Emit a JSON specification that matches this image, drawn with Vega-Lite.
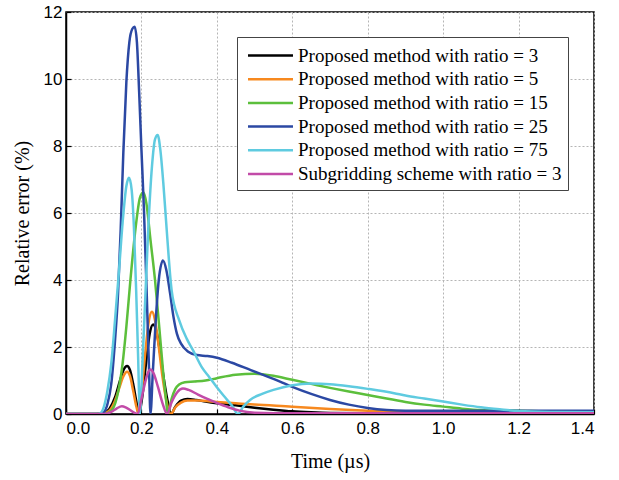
{
  "$schema": "https://vega.github.io/schema/vega-lite/v6.json",
  "width": 528,
  "height": 402,
  "autosize": {"type": "none"},
  "padding": {"left": 66, "top": 12, "right": 25, "bottom": 66},
  "background": "#ffffff",
  "config": {
    "view": {"stroke": "#000000", "strokeWidth": 1.5},
    "axis": {
      "domainColor": "#000000",
      "domainWidth": 1.5,
      "tickColor": "#000000",
      "tickSize": -5,
      "tickWidth": 1.2,
      "labelFont": "Liberation Sans",
      "labelFontSize": 17,
      "labelColor": "#000000",
      "labelPadding": 9,
      "titleFont": "Liberation Serif",
      "titleFontSize": 20,
      "titleFontWeight": "normal",
      "titleColor": "#000000",
      "gridColor": "#b5b5b5",
      "gridDash": [2, 2],
      "gridWidth": 1
    },
    "legend": {
      "orient": "none",
      "legendX": 171,
      "legendY": 25,
      "fillColor": "#ffffff",
      "strokeColor": "#444444",
      "strokeWidth": 1,
      "padding": 6,
      "rowPadding": 0.7,
      "labelFont": "Liberation Serif",
      "labelFontSize": 19,
      "labelColor": "#000000",
      "labelLimit": 400,
      "symbolType": "M-2,0H2",
      "symbolSize": 506,
      "symbolOffset": 15,
      "labelOffset": 15,
      "symbolStrokeWidth": 2.5
    }
  },
  "data": {
    "values": [
      {"s": "Proposed method with ratio = 3", "t": 0, "v": 0},
      {"s": "Proposed method with ratio = 3", "t": 0.08, "v": 0},
      {"s": "Proposed method with ratio = 3", "t": 0.1, "v": 0.03},
      {"s": "Proposed method with ratio = 3", "t": 0.115, "v": 0.15},
      {"s": "Proposed method with ratio = 3", "t": 0.13, "v": 0.5},
      {"s": "Proposed method with ratio = 3", "t": 0.142, "v": 0.95},
      {"s": "Proposed method with ratio = 3", "t": 0.152, "v": 1.3},
      {"s": "Proposed method with ratio = 3", "t": 0.162, "v": 1.43},
      {"s": "Proposed method with ratio = 3", "t": 0.17, "v": 1.3},
      {"s": "Proposed method with ratio = 3", "t": 0.178, "v": 0.9},
      {"s": "Proposed method with ratio = 3", "t": 0.186, "v": 0.4},
      {"s": "Proposed method with ratio = 3", "t": 0.193, "v": 0},
      {"s": "Proposed method with ratio = 3", "t": 0.202, "v": 0.5},
      {"s": "Proposed method with ratio = 3", "t": 0.212, "v": 1.5},
      {"s": "Proposed method with ratio = 3", "t": 0.222, "v": 2.4},
      {"s": "Proposed method with ratio = 3", "t": 0.231, "v": 2.67},
      {"s": "Proposed method with ratio = 3", "t": 0.24, "v": 2.45},
      {"s": "Proposed method with ratio = 3", "t": 0.25, "v": 1.8},
      {"s": "Proposed method with ratio = 3", "t": 0.26, "v": 1.0},
      {"s": "Proposed method with ratio = 3", "t": 0.27, "v": 0.35},
      {"s": "Proposed method with ratio = 3", "t": 0.278, "v": 0},
      {"s": "Proposed method with ratio = 3", "t": 0.29, "v": 0.22},
      {"s": "Proposed method with ratio = 3", "t": 0.305, "v": 0.4},
      {"s": "Proposed method with ratio = 3", "t": 0.322, "v": 0.45},
      {"s": "Proposed method with ratio = 3", "t": 0.345, "v": 0.42},
      {"s": "Proposed method with ratio = 3", "t": 0.37, "v": 0.37},
      {"s": "Proposed method with ratio = 3", "t": 0.4, "v": 0.32},
      {"s": "Proposed method with ratio = 3", "t": 0.45, "v": 0.26},
      {"s": "Proposed method with ratio = 3", "t": 0.5, "v": 0.19},
      {"s": "Proposed method with ratio = 3", "t": 0.55, "v": 0.13},
      {"s": "Proposed method with ratio = 3", "t": 0.6, "v": 0.08},
      {"s": "Proposed method with ratio = 3", "t": 0.65, "v": 0.05},
      {"s": "Proposed method with ratio = 3", "t": 0.7, "v": 0.03},
      {"s": "Proposed method with ratio = 3", "t": 0.8, "v": 0.02},
      {"s": "Proposed method with ratio = 3", "t": 1.0, "v": 0.01},
      {"s": "Proposed method with ratio = 3", "t": 1.4, "v": 0.01},

      {"s": "Proposed method with ratio = 5", "t": 0, "v": 0},
      {"s": "Proposed method with ratio = 5", "t": 0.08, "v": 0},
      {"s": "Proposed method with ratio = 5", "t": 0.1, "v": 0.02},
      {"s": "Proposed method with ratio = 5", "t": 0.115, "v": 0.1},
      {"s": "Proposed method with ratio = 5", "t": 0.13, "v": 0.4},
      {"s": "Proposed method with ratio = 5", "t": 0.142, "v": 0.8},
      {"s": "Proposed method with ratio = 5", "t": 0.152, "v": 1.12},
      {"s": "Proposed method with ratio = 5", "t": 0.162, "v": 1.26},
      {"s": "Proposed method with ratio = 5", "t": 0.17, "v": 1.12},
      {"s": "Proposed method with ratio = 5", "t": 0.178, "v": 0.7},
      {"s": "Proposed method with ratio = 5", "t": 0.187, "v": 0.2},
      {"s": "Proposed method with ratio = 5", "t": 0.193, "v": 0},
      {"s": "Proposed method with ratio = 5", "t": 0.2, "v": 0.6},
      {"s": "Proposed method with ratio = 5", "t": 0.21, "v": 1.8},
      {"s": "Proposed method with ratio = 5", "t": 0.22, "v": 2.8},
      {"s": "Proposed method with ratio = 5", "t": 0.228, "v": 3.05},
      {"s": "Proposed method with ratio = 5", "t": 0.236, "v": 2.8},
      {"s": "Proposed method with ratio = 5", "t": 0.246, "v": 2.0},
      {"s": "Proposed method with ratio = 5", "t": 0.256, "v": 1.1},
      {"s": "Proposed method with ratio = 5", "t": 0.266, "v": 0.4},
      {"s": "Proposed method with ratio = 5", "t": 0.278, "v": 0},
      {"s": "Proposed method with ratio = 5", "t": 0.29, "v": 0.2},
      {"s": "Proposed method with ratio = 5", "t": 0.305, "v": 0.34},
      {"s": "Proposed method with ratio = 5", "t": 0.322, "v": 0.4},
      {"s": "Proposed method with ratio = 5", "t": 0.35, "v": 0.4},
      {"s": "Proposed method with ratio = 5", "t": 0.4, "v": 0.36},
      {"s": "Proposed method with ratio = 5", "t": 0.45, "v": 0.32},
      {"s": "Proposed method with ratio = 5", "t": 0.5, "v": 0.28},
      {"s": "Proposed method with ratio = 5", "t": 0.6, "v": 0.22},
      {"s": "Proposed method with ratio = 5", "t": 0.7, "v": 0.15},
      {"s": "Proposed method with ratio = 5", "t": 0.8, "v": 0.1},
      {"s": "Proposed method with ratio = 5", "t": 0.9, "v": 0.06},
      {"s": "Proposed method with ratio = 5", "t": 1.0, "v": 0.03},
      {"s": "Proposed method with ratio = 5", "t": 1.2, "v": 0.02},
      {"s": "Proposed method with ratio = 5", "t": 1.4, "v": 0.02},

      {"s": "Proposed method with ratio = 15", "t": 0, "v": 0},
      {"s": "Proposed method with ratio = 15", "t": 0.1, "v": 0},
      {"s": "Proposed method with ratio = 15", "t": 0.12, "v": 0.1},
      {"s": "Proposed method with ratio = 15", "t": 0.135, "v": 0.5},
      {"s": "Proposed method with ratio = 15", "t": 0.15, "v": 1.5},
      {"s": "Proposed method with ratio = 15", "t": 0.16, "v": 2.6},
      {"s": "Proposed method with ratio = 15", "t": 0.17, "v": 3.9},
      {"s": "Proposed method with ratio = 15", "t": 0.185, "v": 5.6},
      {"s": "Proposed method with ratio = 15", "t": 0.196, "v": 6.45},
      {"s": "Proposed method with ratio = 15", "t": 0.205, "v": 6.62},
      {"s": "Proposed method with ratio = 15", "t": 0.213, "v": 6.3},
      {"s": "Proposed method with ratio = 15", "t": 0.224, "v": 5.2},
      {"s": "Proposed method with ratio = 15", "t": 0.236, "v": 4.0},
      {"s": "Proposed method with ratio = 15", "t": 0.248, "v": 2.5},
      {"s": "Proposed method with ratio = 15", "t": 0.258, "v": 1.2},
      {"s": "Proposed method with ratio = 15", "t": 0.265, "v": 0.45},
      {"s": "Proposed method with ratio = 15", "t": 0.27, "v": 0},
      {"s": "Proposed method with ratio = 15", "t": 0.28, "v": 0.45},
      {"s": "Proposed method with ratio = 15", "t": 0.29, "v": 0.75},
      {"s": "Proposed method with ratio = 15", "t": 0.3, "v": 0.88},
      {"s": "Proposed method with ratio = 15", "t": 0.315, "v": 0.95},
      {"s": "Proposed method with ratio = 15", "t": 0.34, "v": 0.97},
      {"s": "Proposed method with ratio = 15", "t": 0.37, "v": 1.0},
      {"s": "Proposed method with ratio = 15", "t": 0.4, "v": 1.07},
      {"s": "Proposed method with ratio = 15", "t": 0.45, "v": 1.17},
      {"s": "Proposed method with ratio = 15", "t": 0.5, "v": 1.2},
      {"s": "Proposed method with ratio = 15", "t": 0.55, "v": 1.14},
      {"s": "Proposed method with ratio = 15", "t": 0.6, "v": 1.02},
      {"s": "Proposed method with ratio = 15", "t": 0.65, "v": 0.9},
      {"s": "Proposed method with ratio = 15", "t": 0.7, "v": 0.78},
      {"s": "Proposed method with ratio = 15", "t": 0.75, "v": 0.67},
      {"s": "Proposed method with ratio = 15", "t": 0.8, "v": 0.57},
      {"s": "Proposed method with ratio = 15", "t": 0.85, "v": 0.46},
      {"s": "Proposed method with ratio = 15", "t": 0.9, "v": 0.36},
      {"s": "Proposed method with ratio = 15", "t": 0.95, "v": 0.28},
      {"s": "Proposed method with ratio = 15", "t": 1.0, "v": 0.22},
      {"s": "Proposed method with ratio = 15", "t": 1.05, "v": 0.16},
      {"s": "Proposed method with ratio = 15", "t": 1.1, "v": 0.12},
      {"s": "Proposed method with ratio = 15", "t": 1.2, "v": 0.1},
      {"s": "Proposed method with ratio = 15", "t": 1.3, "v": 0.08},
      {"s": "Proposed method with ratio = 15", "t": 1.4, "v": 0.08},

      {"s": "Proposed method with ratio = 25", "t": 0, "v": 0},
      {"s": "Proposed method with ratio = 25", "t": 0.09, "v": 0},
      {"s": "Proposed method with ratio = 25", "t": 0.1, "v": 0.05},
      {"s": "Proposed method with ratio = 25", "t": 0.11, "v": 0.3},
      {"s": "Proposed method with ratio = 25", "t": 0.12, "v": 0.9},
      {"s": "Proposed method with ratio = 25", "t": 0.13, "v": 2.2},
      {"s": "Proposed method with ratio = 25", "t": 0.138, "v": 3.6},
      {"s": "Proposed method with ratio = 25", "t": 0.145, "v": 5.5},
      {"s": "Proposed method with ratio = 25", "t": 0.152, "v": 7.8},
      {"s": "Proposed method with ratio = 25", "t": 0.16, "v": 9.9},
      {"s": "Proposed method with ratio = 25", "t": 0.168, "v": 11.1},
      {"s": "Proposed method with ratio = 25", "t": 0.176, "v": 11.5},
      {"s": "Proposed method with ratio = 25", "t": 0.182, "v": 11.56},
      {"s": "Proposed method with ratio = 25", "t": 0.188, "v": 11.1},
      {"s": "Proposed method with ratio = 25", "t": 0.194, "v": 9.6},
      {"s": "Proposed method with ratio = 25", "t": 0.2, "v": 7.9},
      {"s": "Proposed method with ratio = 25", "t": 0.207, "v": 6.0},
      {"s": "Proposed method with ratio = 25", "t": 0.214, "v": 3.6},
      {"s": "Proposed method with ratio = 25", "t": 0.22, "v": 1.4},
      {"s": "Proposed method with ratio = 25", "t": 0.224, "v": 0},
      {"s": "Proposed method with ratio = 25", "t": 0.23, "v": 1.2},
      {"s": "Proposed method with ratio = 25", "t": 0.238, "v": 2.8},
      {"s": "Proposed method with ratio = 25", "t": 0.246, "v": 4.0},
      {"s": "Proposed method with ratio = 25", "t": 0.257, "v": 4.58},
      {"s": "Proposed method with ratio = 25", "t": 0.266, "v": 4.3},
      {"s": "Proposed method with ratio = 25", "t": 0.276, "v": 3.6},
      {"s": "Proposed method with ratio = 25", "t": 0.285, "v": 2.9},
      {"s": "Proposed method with ratio = 25", "t": 0.294, "v": 2.4},
      {"s": "Proposed method with ratio = 25", "t": 0.305, "v": 2.1},
      {"s": "Proposed method with ratio = 25", "t": 0.324, "v": 1.86},
      {"s": "Proposed method with ratio = 25", "t": 0.347, "v": 1.76},
      {"s": "Proposed method with ratio = 25", "t": 0.375, "v": 1.73},
      {"s": "Proposed method with ratio = 25", "t": 0.4, "v": 1.68},
      {"s": "Proposed method with ratio = 25", "t": 0.44, "v": 1.53},
      {"s": "Proposed method with ratio = 25", "t": 0.49, "v": 1.31},
      {"s": "Proposed method with ratio = 25", "t": 0.55, "v": 1.05},
      {"s": "Proposed method with ratio = 25", "t": 0.6, "v": 0.81},
      {"s": "Proposed method with ratio = 25", "t": 0.65, "v": 0.6},
      {"s": "Proposed method with ratio = 25", "t": 0.7, "v": 0.42},
      {"s": "Proposed method with ratio = 25", "t": 0.75, "v": 0.28},
      {"s": "Proposed method with ratio = 25", "t": 0.8, "v": 0.18},
      {"s": "Proposed method with ratio = 25", "t": 0.85, "v": 0.12},
      {"s": "Proposed method with ratio = 25", "t": 0.9, "v": 0.1},
      {"s": "Proposed method with ratio = 25", "t": 1.0, "v": 0.1},
      {"s": "Proposed method with ratio = 25", "t": 1.2, "v": 0.1},
      {"s": "Proposed method with ratio = 25", "t": 1.4, "v": 0.1},

      {"s": "Proposed method with ratio = 75", "t": 0, "v": 0},
      {"s": "Proposed method with ratio = 75", "t": 0.08, "v": 0},
      {"s": "Proposed method with ratio = 75", "t": 0.09, "v": 0.02},
      {"s": "Proposed method with ratio = 75", "t": 0.1, "v": 0.2},
      {"s": "Proposed method with ratio = 75", "t": 0.11, "v": 0.7},
      {"s": "Proposed method with ratio = 75", "t": 0.12, "v": 1.5},
      {"s": "Proposed method with ratio = 75", "t": 0.13, "v": 2.8},
      {"s": "Proposed method with ratio = 75", "t": 0.14, "v": 4.2},
      {"s": "Proposed method with ratio = 75", "t": 0.15, "v": 5.7},
      {"s": "Proposed method with ratio = 75", "t": 0.16, "v": 6.8},
      {"s": "Proposed method with ratio = 75", "t": 0.167, "v": 7.05},
      {"s": "Proposed method with ratio = 75", "t": 0.174, "v": 6.7},
      {"s": "Proposed method with ratio = 75", "t": 0.18, "v": 5.6},
      {"s": "Proposed method with ratio = 75", "t": 0.186, "v": 3.7},
      {"s": "Proposed method with ratio = 75", "t": 0.191, "v": 1.8},
      {"s": "Proposed method with ratio = 75", "t": 0.196, "v": 0},
      {"s": "Proposed method with ratio = 75", "t": 0.203, "v": 1.6},
      {"s": "Proposed method with ratio = 75", "t": 0.21, "v": 3.4},
      {"s": "Proposed method with ratio = 75", "t": 0.218, "v": 5.5},
      {"s": "Proposed method with ratio = 75", "t": 0.228, "v": 7.4},
      {"s": "Proposed method with ratio = 75", "t": 0.236, "v": 8.2},
      {"s": "Proposed method with ratio = 75", "t": 0.243, "v": 8.33},
      {"s": "Proposed method with ratio = 75", "t": 0.25, "v": 7.9},
      {"s": "Proposed method with ratio = 75", "t": 0.258, "v": 6.9},
      {"s": "Proposed method with ratio = 75", "t": 0.267, "v": 5.5},
      {"s": "Proposed method with ratio = 75", "t": 0.28, "v": 3.7},
      {"s": "Proposed method with ratio = 75", "t": 0.3, "v": 2.8},
      {"s": "Proposed method with ratio = 75", "t": 0.32, "v": 2.25},
      {"s": "Proposed method with ratio = 75", "t": 0.337, "v": 1.9},
      {"s": "Proposed method with ratio = 75", "t": 0.36, "v": 1.4},
      {"s": "Proposed method with ratio = 75", "t": 0.38, "v": 1.1},
      {"s": "Proposed method with ratio = 75", "t": 0.4, "v": 0.8},
      {"s": "Proposed method with ratio = 75", "t": 0.42, "v": 0.52},
      {"s": "Proposed method with ratio = 75", "t": 0.44, "v": 0.25},
      {"s": "Proposed method with ratio = 75", "t": 0.456, "v": 0},
      {"s": "Proposed method with ratio = 75", "t": 0.47, "v": 0.22},
      {"s": "Proposed method with ratio = 75", "t": 0.488, "v": 0.42},
      {"s": "Proposed method with ratio = 75", "t": 0.52, "v": 0.6},
      {"s": "Proposed method with ratio = 75", "t": 0.55, "v": 0.72},
      {"s": "Proposed method with ratio = 75", "t": 0.6, "v": 0.86},
      {"s": "Proposed method with ratio = 75", "t": 0.65, "v": 0.91},
      {"s": "Proposed method with ratio = 75", "t": 0.7, "v": 0.89},
      {"s": "Proposed method with ratio = 75", "t": 0.75, "v": 0.83},
      {"s": "Proposed method with ratio = 75", "t": 0.8, "v": 0.75},
      {"s": "Proposed method with ratio = 75", "t": 0.87, "v": 0.62},
      {"s": "Proposed method with ratio = 75", "t": 0.9, "v": 0.55},
      {"s": "Proposed method with ratio = 75", "t": 0.95, "v": 0.46},
      {"s": "Proposed method with ratio = 75", "t": 1.0, "v": 0.37},
      {"s": "Proposed method with ratio = 75", "t": 1.05, "v": 0.28},
      {"s": "Proposed method with ratio = 75", "t": 1.1, "v": 0.2},
      {"s": "Proposed method with ratio = 75", "t": 1.15, "v": 0.14},
      {"s": "Proposed method with ratio = 75", "t": 1.2, "v": 0.09},
      {"s": "Proposed method with ratio = 75", "t": 1.3, "v": 0.06},
      {"s": "Proposed method with ratio = 75", "t": 1.4, "v": 0.05},

      {"s": "Subgridding scheme with ratio = 3", "t": 0, "v": 0},
      {"s": "Subgridding scheme with ratio = 3", "t": 0.1, "v": 0},
      {"s": "Subgridding scheme with ratio = 3", "t": 0.12, "v": 0.06},
      {"s": "Subgridding scheme with ratio = 3", "t": 0.135, "v": 0.17},
      {"s": "Subgridding scheme with ratio = 3", "t": 0.148, "v": 0.23},
      {"s": "Subgridding scheme with ratio = 3", "t": 0.158, "v": 0.2},
      {"s": "Subgridding scheme with ratio = 3", "t": 0.17, "v": 0.12},
      {"s": "Subgridding scheme with ratio = 3", "t": 0.182, "v": 0.03},
      {"s": "Subgridding scheme with ratio = 3", "t": 0.19, "v": 0},
      {"s": "Subgridding scheme with ratio = 3", "t": 0.2, "v": 0.45},
      {"s": "Subgridding scheme with ratio = 3", "t": 0.21, "v": 0.95},
      {"s": "Subgridding scheme with ratio = 3", "t": 0.218, "v": 1.25},
      {"s": "Subgridding scheme with ratio = 3", "t": 0.224, "v": 1.33},
      {"s": "Subgridding scheme with ratio = 3", "t": 0.232, "v": 1.22},
      {"s": "Subgridding scheme with ratio = 3", "t": 0.244, "v": 0.8},
      {"s": "Subgridding scheme with ratio = 3", "t": 0.256, "v": 0.32},
      {"s": "Subgridding scheme with ratio = 3", "t": 0.268, "v": 0},
      {"s": "Subgridding scheme with ratio = 3", "t": 0.28, "v": 0.35},
      {"s": "Subgridding scheme with ratio = 3", "t": 0.295, "v": 0.65},
      {"s": "Subgridding scheme with ratio = 3", "t": 0.31, "v": 0.76},
      {"s": "Subgridding scheme with ratio = 3", "t": 0.325, "v": 0.72},
      {"s": "Subgridding scheme with ratio = 3", "t": 0.35, "v": 0.58},
      {"s": "Subgridding scheme with ratio = 3", "t": 0.375, "v": 0.45},
      {"s": "Subgridding scheme with ratio = 3", "t": 0.4, "v": 0.33},
      {"s": "Subgridding scheme with ratio = 3", "t": 0.43, "v": 0.2},
      {"s": "Subgridding scheme with ratio = 3", "t": 0.46, "v": 0.1},
      {"s": "Subgridding scheme with ratio = 3", "t": 0.5, "v": 0.04},
      {"s": "Subgridding scheme with ratio = 3", "t": 0.6, "v": 0.02},
      {"s": "Subgridding scheme with ratio = 3", "t": 1.4, "v": 0.02}
    ]
  },
  "mark": {"type": "line", "interpolate": "monotone", "strokeWidth": 2.5, "clip": true},
  "encoding": {
    "x": {
      "field": "t",
      "type": "quantitative",
      "scale": {"domain": [0, 1.4], "nice": false},
      "axis": {"title": "Time (µs)", "values": [0, 0.2, 0.4, 0.6, 0.8, 1.0, 1.2, 1.4], "format": ".1f", "labelPadding": 11, "titlePadding": 15}
    },
    "y": {
      "field": "v",
      "type": "quantitative",
      "scale": {"domain": [0, 12], "nice": false},
      "axis": {"title": "Relative error (%)", "values": [0, 2, 4, 6, 8, 10, 12], "titlePadding": 11}
    },
    "color": {
      "field": "s",
      "type": "nominal",
      "scale": {
        "domain": [
          "Proposed method with ratio = 3",
          "Proposed method with ratio = 5",
          "Proposed method with ratio = 15",
          "Proposed method with ratio = 25",
          "Proposed method with ratio = 75",
          "Subgridding scheme with ratio = 3"
        ],
        "range": ["#000000", "#f7891f", "#5cbf3c", "#2b48a3", "#5fcbe0", "#c24ba8"]
      },
      "legend": {"title": null}
    }
  }
}
